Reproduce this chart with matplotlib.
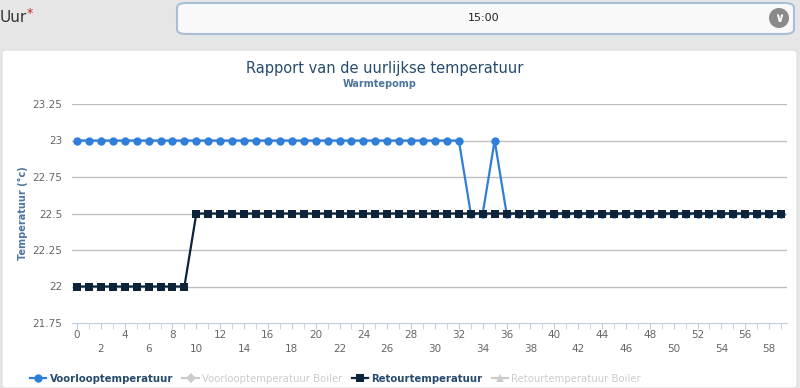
import matplotlib
matplotlib.use("Agg")
import matplotlib.pyplot as plt
from matplotlib.lines import Line2D
from matplotlib.patches import FancyBboxPatch, Ellipse

# data
hours = [0, 1, 2, 3, 4, 5, 6, 7, 8, 9, 10, 11, 12, 13, 14, 15, 16, 17, 18, 19,
         20, 21, 22, 23, 24, 25, 26, 27, 28, 29, 30, 31, 32, 33, 34, 35, 36, 37, 38, 39,
         40, 41, 42, 43, 44, 45, 46, 47, 48, 49, 50, 51, 52, 53, 54, 55, 56, 57, 58, 59]
voorloop = [23, 23, 23, 23, 23, 23, 23, 23, 23, 23, 23, 23, 23, 23, 23, 23, 23, 23, 23, 23,
            23, 23, 23, 23, 23, 23, 23, 23, 23, 23, 23, 23, 23, 22.5, 22.5, 23, 22.5, 22.5, 22.5, 22.5,
            22.5, 22.5, 22.5, 22.5, 22.5, 22.5, 22.5, 22.5, 22.5, 22.5, 22.5, 22.5, 22.5, 22.5, 22.5, 22.5, 22.5, 22.5, 22.5, 22.5]
retour = [22, 22, 22, 22, 22, 22, 22, 22, 22, 22, 22.5, 22.5, 22.5, 22.5, 22.5, 22.5, 22.5, 22.5, 22.5, 22.5,
          22.5, 22.5, 22.5, 22.5, 22.5, 22.5, 22.5, 22.5, 22.5, 22.5, 22.5, 22.5, 22.5, 22.5, 22.5, 22.5, 22.5, 22.5, 22.5, 22.5,
          22.5, 22.5, 22.5, 22.5, 22.5, 22.5, 22.5, 22.5, 22.5, 22.5, 22.5, 22.5, 22.5, 22.5, 22.5, 22.5, 22.5, 22.5, 22.5, 22.5]
y_ticks = [21.75, 22, 22.25, 22.5, 22.75, 23, 23.25]
y_labels = ["21.75", "22", "22.25", "22.5", "22.75", "23", "23.25"]
series_names = ["Voorlooptemperatuur", "Voorlooptemperatuur Boiler",
                "Retourtemperatuur", "Retourtemperatuur Boiler"]

W, H = 800, 388
BLUE = "#2f7ed8"
NAVY = "#0d233a"

fig = plt.figure(figsize=(W / 100, H / 100), dpi=100)
fig.patch.set_facecolor("#e6e6e6")

def fx(px):
    return px / W

def fy(py):
    return 1 - py / H

# page header: label + dropdown
fig.text(fx(0), fy(18), "Uur", fontsize=11, color="#333333", va="center", ha="left")
fig.text(fx(27), fy(14), "*", fontsize=9, color="#cc2222", va="center", ha="left")
box = FancyBboxPatch((fx(177), fy(34)), fx(617), 31 / H,
                     boxstyle="round,pad=0,rounding_size=0.012",
                     transform=fig.transFigure, facecolor="#f9f9f9",
                     edgecolor="#a9bfd8", linewidth=1.5, zorder=-2)
fig.patches.append(box)
fig.text(fx(484), fy(18), "15:00", fontsize=8, color="#222222", va="center", ha="center")
fig.patches.append(Ellipse((fx(779), fy(18)), 20 / W, 20 / H, transform=fig.transFigure,
                           facecolor="#8a8a8a", edgecolor="none", zorder=-1))
fig.text(fx(779), fy(19), "\u2228", fontsize=9, fontweight="bold", color="white",
         va="center", ha="center")

# white chart panel
panel = FancyBboxPatch((fx(2), 0), fx(795), fy(50), boxstyle="round,pad=0,rounding_size=0.006",
                       transform=fig.transFigure, facecolor="white", edgecolor="#dddddd",
                       linewidth=0.8, zorder=-2)
fig.patches.append(panel)

ax = fig.add_axes([fx(72), fy(323), fx(787 - 72), (323 - 104) / H])
ax.set_facecolor("white")
ax.patch.set_alpha(0)

ax.plot(hours, voorloop, color=BLUE, lw=1.6, marker="o", markersize=6,
        markeredgewidth=0, zorder=3)
ax.plot(hours, retour, color=NAVY, lw=1.6, marker="s", markersize=6,
        markeredgewidth=0, zorder=4)

ax.set_xlim(-0.42, 59.5)
ax.set_ylim(21.75, 23.25)
ax.set_yticks(y_ticks)
ax.set_yticklabels(y_labels)
for y in y_ticks[1:]:
    ax.axhline(y, color="#c0c0c0", lw=1, zorder=1)

major = list(range(0, 60, 2))
ax.set_xticks(major)
ax.set_xticklabels([str(h) if h % 4 == 0 else "\n" + str(h) for h in major])
ax.set_xticks(hours, minor=True)
for lbl in ax.get_xticklabels():
    lbl.set_linespacing(1.55)

for s in ["top", "right", "left"]:
    ax.spines[s].set_visible(False)
ax.spines["bottom"].set_color("#c0d0e0")
ax.tick_params(axis="x", which="both", length=4, color="#c0d0e0", labelsize=7.5,
               labelcolor="#666666", pad=1)
ax.tick_params(axis="y", length=0, labelsize=7.5, labelcolor="#666666", pad=7)

ax.set_ylabel("Temperatuur (°c)", fontsize=7, fontweight="bold", color="#4d759e",
              labelpad=3)

fig.text(fx(385), fy(69), "Rapport van de uurlijkse temperatuur", fontsize=10.5,
         color="#274b6d", ha="center", va="center")
fig.text(fx(380), fy(84), "Warmtepomp", fontsize=7, fontweight="bold",
         color="#4d759e", ha="center", va="center")

handles = [
    Line2D([], [], color=BLUE, lw=1.6, marker="o", markersize=6, markeredgewidth=0),
    Line2D([], [], color="#cccccc", lw=1.6, marker="D", markersize=5, markeredgewidth=0),
    Line2D([], [], color=NAVY, lw=1.6, marker="s", markersize=6, markeredgewidth=0),
    Line2D([], [], color="#cccccc", lw=1.6, marker="^", markersize=6, markeredgewidth=0),
]
leg = fig.legend(handles, series_names, loc="center left", bbox_to_anchor=(fx(30), fy(379)),
                 ncol=4, frameon=False, fontsize=7.3, handlelength=1.6,
                 handletextpad=0.35, columnspacing=0.9, borderaxespad=0, borderpad=0)
for txt, c in zip(leg.get_texts(), ["#274b6d", "#cccccc", "#274b6d", "#cccccc"]):
    txt.set_color(c)
    if c != "#cccccc":
        txt.set_fontweight("bold")

fig.savefig("out.png", dpi=100, facecolor=fig.get_facecolor())
